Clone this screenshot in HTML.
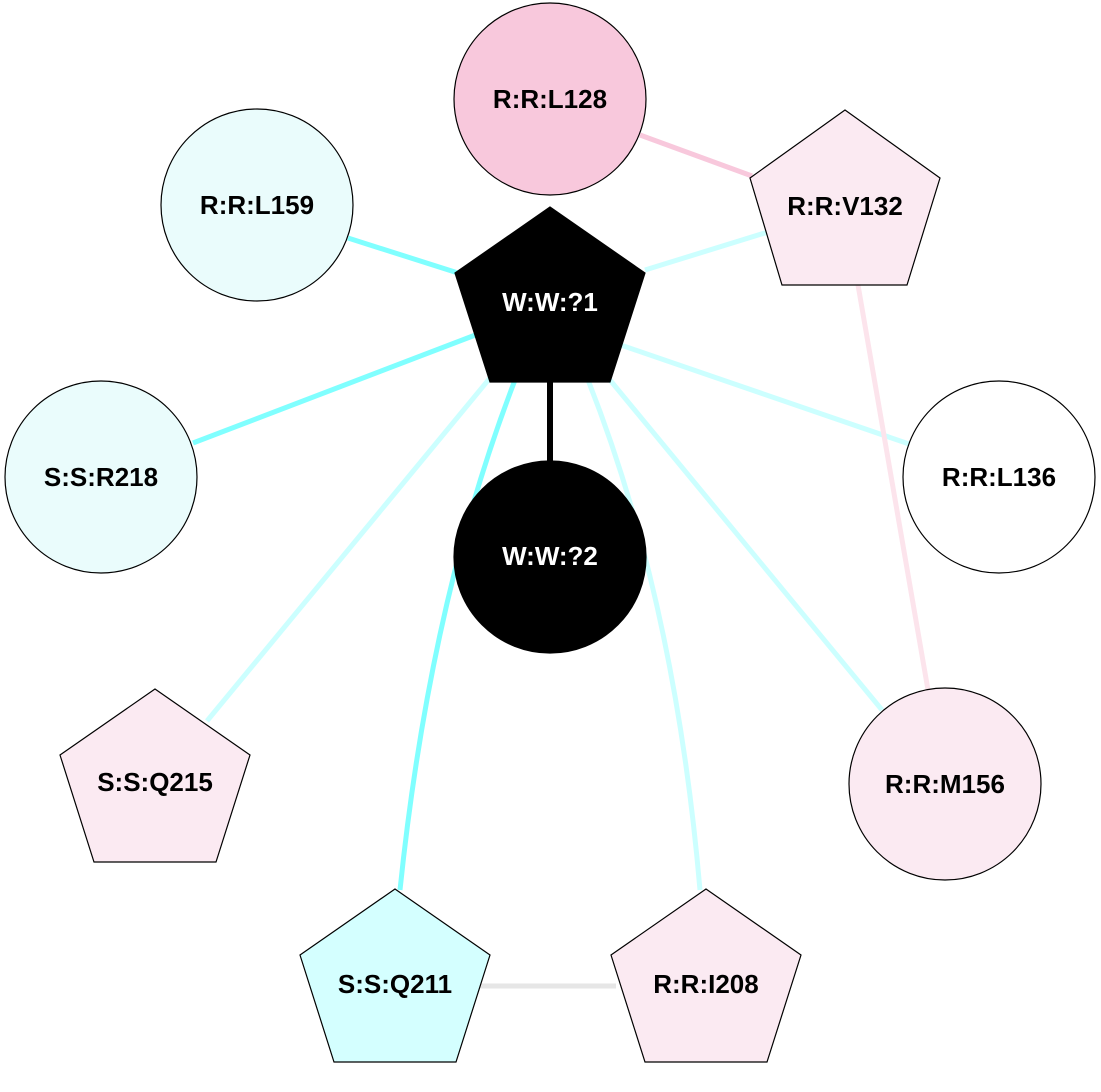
<!DOCTYPE html>
<html><head><meta charset="utf-8"><style>
html,body{margin:0;padding:0;background:#fff}
svg text{font-family:"Liberation Sans",Arial,sans-serif;font-weight:bold;font-size:26px;text-anchor:middle;dominant-baseline:central}
</style></head><body>
<svg width="1101" height="1087" viewBox="0 0 1101 1087" xmlns="http://www.w3.org/2000/svg">
<g fill="none" stroke-linecap="butt">
<line x1="640" y1="135" x2="752" y2="176" stroke="#f8c8dc" stroke-width="5"/>
<line x1="348" y1="238" x2="458" y2="273" stroke="#80ffff" stroke-width="5"/>
<line x1="645" y1="270" x2="768" y2="232" stroke="#ccffff" stroke-width="5"/>
<line x1="193" y1="443" x2="478" y2="334" stroke="#80ffff" stroke-width="5"/>
<line x1="615" y1="343" x2="912" y2="445" stroke="#ccffff" stroke-width="5"/>
<line x1="858" y1="285" x2="928" y2="690" stroke="#fce4ec" stroke-width="5"/>
<line x1="550" y1="380" x2="550" y2="462" stroke="#000" stroke-width="6"/>
<line x1="490" y1="378" x2="207" y2="721" stroke="#ccffff" stroke-width="5"/>
<path d="M515 380 Q430 600 400 890" stroke="#80ffff" stroke-width="5"/>
<path d="M588 380 Q675 600 700 890" stroke="#ccffff" stroke-width="5"/>
<line x1="610" y1="380" x2="882" y2="710" stroke="#ccffff" stroke-width="5"/>
<line x1="480" y1="986" x2="616" y2="986" stroke="#e6e6e6" stroke-width="5"/>
</g>
<g stroke="#000" stroke-width="1.2">
<circle cx="550" cy="99" r="96" fill="#f8c8dc"/>
<circle cx="257" cy="205" r="96" fill="#eafcfc"/>
<polygon points="845,110 940,178 907,285 782,285 750,178" fill="#fbeaf2"/>
<polygon points="550,207 645,273 610,382 490,382 455,273" fill="#000"/>
<circle cx="101" cy="477" r="96" fill="#eafcfc"/>
<circle cx="999" cy="477" r="96" fill="#fff"/>
<circle cx="550" cy="557" r="96" fill="#000"/>
<polygon points="155,689 250,755 216,862 94,862 60,755" fill="#fbeaf2"/>
<circle cx="945" cy="784" r="96" fill="#fbeaf2"/>
<polygon points="395,889 490,955 456,1062 334,1062 300,955" fill="#d4ffff"/>
<polygon points="706,889 801,955 767,1062 645,1062 611,955" fill="#fbeaf2"/>
</g>
<text x="550" y="99">R:R:L128</text>
<text x="257" y="205">R:R:L159</text>
<text x="845" y="206">R:R:V132</text>
<text x="550" y="302" fill="#fff">W:W:?1</text>
<text x="101" y="477">S:S:R218</text>
<text x="999" y="477">R:R:L136</text>
<text x="550" y="556" fill="#fff">W:W:?2</text>
<text x="155" y="782">S:S:Q215</text>
<text x="945" y="784">R:R:M156</text>
<text x="395" y="984">S:S:Q211</text>
<text x="706" y="984">R:R:I208</text>
</svg>
</body></html>
